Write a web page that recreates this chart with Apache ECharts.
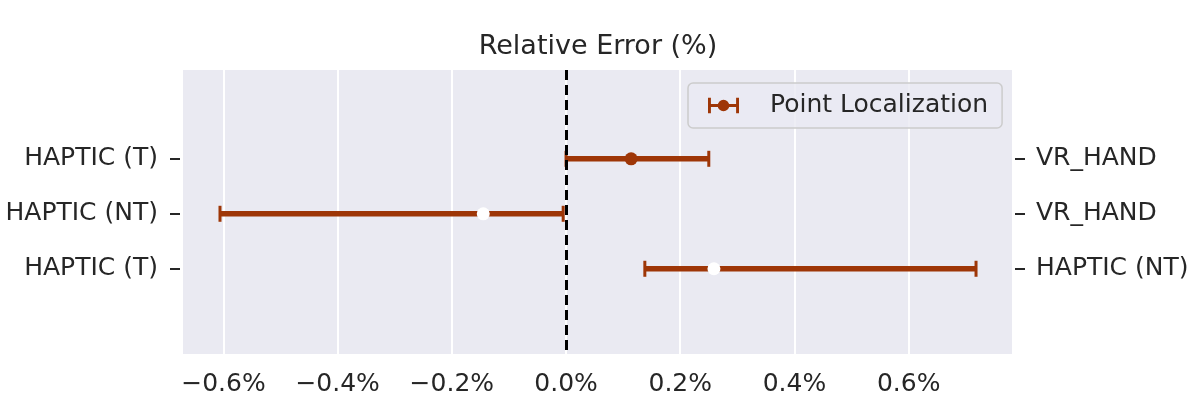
<!DOCTYPE html>
<html>
<head>
<meta charset="utf-8">
<script src="https://cdn.jsdelivr.net/npm/echarts@6/dist/echarts.min.js"></script>
<style>html,body{margin:0;padding:0;background:#fff;}#c{width:1196px;height:401px;}</style>
</head>
<body>
<div id="c"></div>
<script>
// Data
const leftLabels = ['HAPTIC (T)', 'HAPTIC (NT)', 'HAPTIC (T)'];
const rightLabels = ['VR_HAND', 'VR_HAND', 'HAPTIC (NT)'];
const centers = [0.114, -0.145, 0.259];
const lows = [0.0, -0.606, 0.138];
const highs = [0.25, -0.005, 0.718];
const markerFilled = [true, false, false];
const xTicks = [-0.6, -0.4, -0.2, 0.0, 0.2, 0.4, 0.6];
const seriesName = 'Point Localization';
const titleText = 'Relative Error (%)';

const RED = '#9e3607';
const TXT = '#262626';
const FONT = 'DejaVu Sans';
const FS = 25;
const rows = leftLabels.map((_, i) => i);

const fmtX = v => (v < 0 ? '\u2212' : '') + Math.abs(v).toFixed(1) + '%';

const chart = echarts.init(document.getElementById('c'), null, {renderer: 'canvas'});
const yCommon = {
  type: 'value', inverse: true, min: -1.615, max: 3.55,
  offset: 3,
  axisLine: {show: false, onZero: false},
  splitLine: {show: false},
  axisTick: {show: true, length: 10, lineStyle: {color: TXT, width: 2}, customValues: rows},
};
chart.setOption({
  animation: false,
  backgroundColor: '#ffffff',
  title: {
    text: titleText, left: 'center', top: 28,
    textStyle: {fontFamily: FONT, fontSize: 27, fontWeight: 'normal', color: TXT}
  },
  grid: {left: 183, right: 184, top: 70, bottom: 47, show: true, backgroundColor: '#EAEAF2', borderWidth: 0},
  legend: {
    left: 688, top: 83,
    data: [seriesName],
    icon: 'path://M0,0h3v6.5h8v3h-8v6.5h-3z M32,0v16h-3v-6.5h-8v-3h8v-6.5z M16,2a6,6 0 1,1 -0.01,0z',
    itemWidth: 31, itemHeight: 16,
    padding: [9, 14, 9, 20],
    backgroundColor: 'rgba(234,234,242,0.8)',
    borderColor: '#cccccc', borderWidth: 1.5, borderRadius: 5,
    formatter: n => '{g|}' + n,
    textStyle: {fontFamily: FONT, fontSize: FS, color: TXT, lineHeight: 27,
      rich: {g: {width: 26}}},
    itemStyle: {color: RED}
  },
  xAxis: {
    type: 'value', min: -0.6708, max: 0.781,
    axisLine: {show: false, onZero: false},
    axisTick: {show: false, customValues: xTicks},
    axisLabel: {customValues: xTicks, formatter: fmtX, margin: 18,
      fontFamily: FONT, fontSize: FS, color: TXT},
    splitLine: {show: true, lineStyle: {color: '#ffffff', width: 2}}
  },
  yAxis: [
    Object.assign({}, yCommon, {position: 'left',
      axisLabel: {customValues: rows, formatter: v => leftLabels[Math.round(v)], margin: 22,
        fontFamily: FONT, fontSize: FS, color: TXT}}),
    Object.assign({}, yCommon, {position: 'right',
      axisLabel: {customValues: rows, formatter: v => rightLabels[Math.round(v)], margin: 21,
        fontFamily: FONT, fontSize: FS, color: TXT}})
  ],
  series: [
    {
      name: seriesName,
      type: 'custom',
      yAxisIndex: 0,
      encode: {x: [0, 1], y: 2},
      data: rows.map(i => [lows[i], highs[i], i]),
      renderItem: (params, api) => {
        const p1 = api.coord([api.value(0), api.value(2)]);
        const p2 = api.coord([api.value(1), api.value(2)]);
        const cap = 8;
        const style = {stroke: RED, lineWidth: 5.5};
        const capStyle = {stroke: RED, lineWidth: 3};
        return {
          type: 'group',
          children: [
            {type: 'line', shape: {x1: p1[0], y1: p1[1], x2: p2[0], y2: p2[1]}, style: style},
            {type: 'line', shape: {x1: p1[0], y1: p1[1] - cap, x2: p1[0], y2: p1[1] + cap}, style: capStyle},
            {type: 'line', shape: {x1: p2[0], y1: p2[1] - cap, x2: p2[0], y2: p2[1] + cap}, style: capStyle}
          ]
        };
      },
      z: 3,
      markLine: {
        silent: true, symbol: 'none', label: {show: false},
        lineStyle: {color: '#000000', width: 3, type: [10, 5]},
        data: [{xAxis: 0}]
      }
    },
    {
      name: 'markers',
      type: 'scatter',
      yAxisIndex: 0,
      symbol: 'circle', symbolSize: 13,
      z: 4,
      data: rows.map(i => ({value: [centers[i], i],
        itemStyle: {color: markerFilled[i] ? RED : '#ffffff', opacity: 1}}))
    }
  ]
});
</script>
</body>
</html>
